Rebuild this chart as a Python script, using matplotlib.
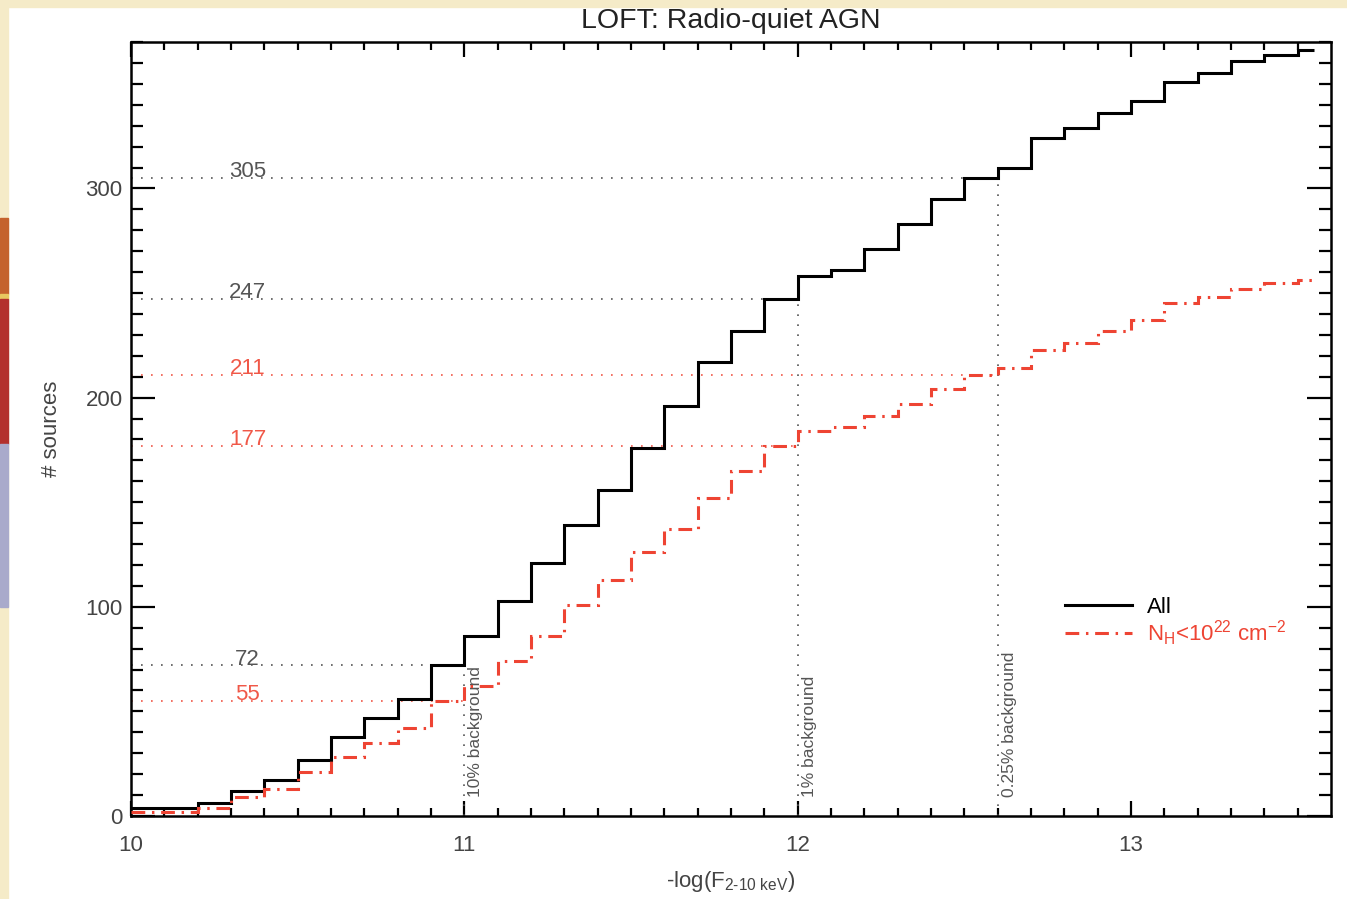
import matplotlib
matplotlib.use("Agg")
import matplotlib.pyplot as plt
from matplotlib.patches import Rectangle

plt.rcParams['font.family'] = ['Liberation Sans', 'DejaVu Sans']
plt.rcParams['mathtext.fontset'] = 'custom'
plt.rcParams['mathtext.rm'] = 'Liberation Sans'
plt.rcParams['mathtext.it'] = 'Liberation Sans:italic'

# bin edges in -log(F 2-10 keV)
edges = [10.0, 10.1, 10.2, 10.3, 10.4, 10.5, 10.6, 10.7, 10.8, 10.9,
         11.0, 11.1, 11.2, 11.3, 11.4, 11.5, 11.6, 11.7, 11.8, 11.9,
         12.0, 12.1, 12.2, 12.3, 12.4, 12.5, 12.6, 12.7, 12.8, 12.9,
         13.0, 13.1, 13.2, 13.3, 13.4, 13.5, 13.55]

# cumulative number of sources, all
n_all = [4, 4, 6, 12, 17, 27, 38, 47, 56, 72,
         86, 103, 121, 139, 156, 176, 196, 217, 232, 247,
         258, 261, 271, 283, 295, 305, 310, 324, 329, 336,
         342, 351, 355, 361, 364, 366]

# cumulative number of sources with NH < 1e22
n_unabs = [2, 2, 4, 9, 13, 21, 28, 35, 42, 55,
           62, 74, 86, 101, 113, 126, 137, 152, 165, 177,
           184, 186, 191, 197, 204, 211, 214, 223, 226, 232,
           237, 245, 248, 252, 255, 256]

# background limits
bkg_x = [11.0, 12.0, 12.6]
bkg_labels = ['10% background', '1% background', '0.25% background']
bkg_all = [72, 247, 305]
bkg_unabs = [55, 177, 211]

RED = '#EE4433'
GREY = '#555555'

fig = plt.figure(figsize=(13.47, 8.99), dpi=100)
fig.patch.set_facecolor('white')

# slide decorations (beige frame + coloured bars on the left)
beige = '#F5EBC8'
fig.patches.append(Rectangle((0, 1 - 7 / 899.), 1, 7 / 899., transform=fig.transFigure, color=beige, zorder=0))
fig.patches.append(Rectangle((0, 0), 8 / 1347., 1, transform=fig.transFigure, color=beige, zorder=0))
fig.patches.append(Rectangle((0, 1 - 294 / 899.), 8 / 1347., 76 / 899., transform=fig.transFigure, color='#C4622D', zorder=1))
fig.patches.append(Rectangle((0, 1 - 299 / 899.), 8 / 1347., 5 / 899., transform=fig.transFigure, color='#E8C860', zorder=1))
fig.patches.append(Rectangle((0, 1 - 444 / 899.), 8 / 1347., 145 / 899., transform=fig.transFigure, color='#B3302D', zorder=1))
fig.patches.append(Rectangle((0, 1 - 607 / 899.), 8 / 1347., 163 / 899., transform=fig.transFigure, color='#A9AACB', zorder=1))

ax = fig.add_axes([131 / 1347., 1 - 816 / 899., 1200 / 1347., 774 / 899.])

ax.stairs(n_all, edges, baseline=None, color='black', lw=2.2, label='All', zorder=4)
ax.stairs(n_unabs, edges, baseline=None, color=RED, lw=2.2,
          linestyle=(0, (4.5, 2.2, 0.8, 2.2)), label=r'N$_\mathregular{H}$<10$^{22}$ cm$^{-2}$', zorder=4)

for xb, lab, ya, yu in zip(bkg_x, bkg_labels, bkg_all, bkg_unabs):
    ax.plot([xb, xb], [0, ya], color=GREY, lw=1.2, linestyle=(0, (1, 5)), zorder=2)
    ax.plot([10, xb], [ya, ya], color=GREY, lw=1.2, linestyle=(0, (1, 5)), zorder=2)
    ax.plot([10, xb], [yu, yu], color=RED, lw=1.2, linestyle=(0, (1, 5)), alpha=0.9, zorder=2)
    ax.text(10.35, ya - 2, str(ya), color=GREY, fontsize=16, ha='center', va='bottom')
    ax.text(10.35, yu - 2, str(yu), color='#F05848', fontsize=16, ha='center', va='bottom')
    ax.text(xb + 0.012, 9, lab, rotation=90, color=GREY, fontsize=12.5, ha='left', va='bottom')

ax.set_xlim(10, 13.6)
ax.set_ylim(0, 370)
ax.set_xticks([10, 11, 12, 13])
ax.set_yticks([0, 100, 200, 300])
ax.set_xticks([x / 10 for x in range(100, 136)], minor=True)
ax.set_yticks(list(range(0, 371, 10)), minor=True)

ax.tick_params(which='both', direction='in', top=True, right=True, width=1.6, colors='black',
               labelcolor='#444444', labelsize=16)
ax.tick_params(axis='x', which='major', length=10.8, pad=14)
ax.tick_params(axis='x', which='minor', length=5.8)
ax.tick_params(axis='y', which='major', length=17.3, pad=6)
ax.tick_params(axis='y', which='minor', length=8.6)
for sp in ax.spines.values():
    sp.set_linewidth(1.8)

ax.set_title('LOFT: Radio-quiet AGN', fontsize=20.5, color='#222222', pad=10)
ax.set_ylabel('# sources', fontsize=16, color='#444444')
ax.yaxis.set_label_coords(-0.066, 0.5)
ax.yaxis.label.set_va('center')
ax.set_xlabel('-log(F$_\\mathregular{2\u201010\\ keV}$)', fontsize=16, color='#444444')
ax.xaxis.set_label_coords(0.5, -0.085)
ax.xaxis.label.set_va('center')

leg = ax.legend(loc='upper left', bbox_to_anchor=(0.769, 0.297), frameon=False, fontsize=16,
                handlelength=3.0, handletextpad=0.7, labelspacing=0.0, borderpad=0,
                labelcolor='linecolor')

fig.savefig('out.png', dpi=100, facecolor=fig.get_facecolor())
